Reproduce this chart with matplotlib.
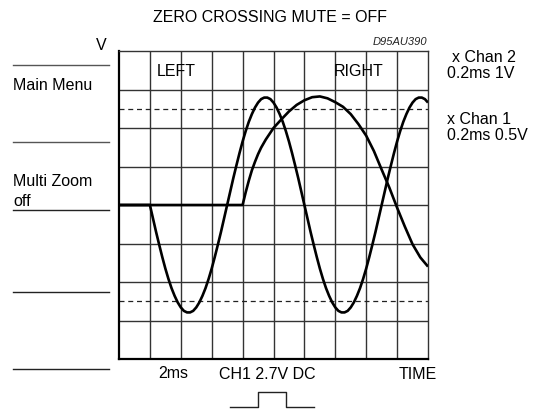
import numpy as np
import matplotlib.pyplot as plt

plt.rcParams['font.family'] = ['Liberation Sans', 'DejaVu Sans']

# Chan 2 trace (fast), in grid divisions; flat until 1 div, then read every 0.1 div
fast_x = np.concatenate([[0.0], np.round(np.linspace(1.0, 10.0, 91), 1)])
fast_y = [0.0,
          0.00, -0.35, -0.70, -1.03, -1.35, -1.65, -1.92, -2.16, -2.36, -2.53, -2.66, -2.75, -2.79,
          -2.79, -2.75, -2.66, -2.53, -2.36, -2.16, -1.92, -1.65, -1.35, -1.03, -0.70, -0.35, 0.00,
          0.35, 0.70, 1.03, 1.35, 1.65, 1.92, 2.16, 2.36, 2.53, 2.66, 2.75, 2.79,
          2.79, 2.75, 2.66, 2.53, 2.36, 2.16, 1.92, 1.65, 1.35, 1.03, 0.70, 0.35, 0.00,
          -0.35, -0.70, -1.03, -1.35, -1.65, -1.92, -2.16, -2.36, -2.53, -2.66, -2.75, -2.79,
          -2.79, -2.75, -2.66, -2.53, -2.36, -2.16, -1.92, -1.65, -1.35, -1.03, -0.70, -0.35, 0.00,
          0.35, 0.70, 1.03, 1.35, 1.65, 1.92, 2.16, 2.36, 2.53, 2.66, 2.75, 2.79,
          2.79, 2.75, 2.66]

# Chan 1 trace (slow)
slow_x = [0.0, 4.0, 4.1, 4.2, 4.3, 4.4, 4.5, 4.6, 4.75, 5.0, 5.25, 5.5, 5.75, 6.0, 6.25,
          6.5, 6.75, 7.0, 7.25, 7.5, 7.75, 8.0, 8.25, 8.5, 8.75, 9.0, 9.25, 9.5, 9.75, 10.0]
slow_y = [0.0, 0.0, 0.33, 0.63, 0.90, 1.12, 1.32, 1.49, 1.70, 2.00, 2.22, 2.43, 2.60, 2.72,
          2.80, 2.82, 2.77, 2.67, 2.55, 2.36, 2.10, 1.80, 1.40, 0.92, 0.45, -0.07, -0.56,
          -1.02, -1.36, -1.60]

marker_levels = [2.5, -2.5]
menu_lines_y = [66, 143, 211, 293, 370]   # px from top
fs = 11.5

W, H = 534, 410
fig = plt.figure(figsize=(W / 100, H / 100), dpi=100)

# background axes in pixel coords for labels and menu lines
bg = fig.add_axes([0, 0, 1, 1])
bg.set_xlim(0, W)
bg.set_ylim(H, 0)
bg.axis('off')

for i, yy in enumerate(menu_lines_y):
    bg.plot([13, 109], [yy, yy], color='#555555' if i < 2 else '#222222', lw=1.0)

bg.text(107, 46, 'V', ha='right', va='center', fontsize=fs)
bg.text(13, 86, 'Main Menu', ha='left', va='center', fontsize=fs)
bg.text(13, 182, 'Multi Zoom', ha='left', va='center', fontsize=fs)
bg.text(13, 202, 'off', ha='left', va='center', fontsize=fs)

bg.text(270, 18, 'ZERO CROSSING MUTE = OFF', ha='center', va='center', fontsize=fs)
bg.text(427, 42, 'D95AU390', ha='right', va='center', fontsize=8, style='italic',
        color='#222222')

bg.text(452, 58, 'x Chan 2', ha='left', va='center', fontsize=fs)
bg.text(447, 74, '0.2ms 1V', ha='left', va='center', fontsize=fs)
bg.text(447, 119, 'x Chan 1', ha='left', va='center', fontsize=fs)
bg.text(447, 136, '0.2ms 0.5V', ha='left', va='center', fontsize=fs)

bg.text(173, 374, '2ms', ha='center', va='center', fontsize=fs)
bg.text(267, 375, 'CH1 2.7V DC', ha='center', va='center', fontsize=fs)
bg.text(418, 375, 'TIME', ha='center', va='center', fontsize=fs)

# little pulse symbol
bg.plot([230, 258, 258, 286, 286, 314], [408, 408, 393, 393, 408, 408],
        color='#222222', lw=1.0)

# scope screen
left, right, top, bottom = 119, 428, 52, 360
ax = fig.add_axes([left / W, 1 - bottom / H, (right - left) / W, (bottom - top) / H])
ax.set_xlim(0, 10)
ax.set_ylim(-4, 4)
ax.set_xticks([])
ax.set_yticks([])
for xv in range(1, 10):
    ax.axvline(xv, color='#333333', lw=1.0, zorder=1)
for yv in range(-3, 4):
    ax.axhline(yv, color='#333333', lw=1.0, zorder=1)
for lv in marker_levels:
    ax.axhline(lv, color='#222222', lw=0.9, ls=(0, (4, 3)), zorder=1)

ax.text(1.85, 3.5, 'LEFT', ha='center', va='center', fontsize=fs)
ax.text(7.75, 3.5, 'RIGHT', ha='center', va='center', fontsize=fs)

ax.plot(fast_x, fast_y, color='black', lw=1.9, solid_capstyle='butt',
        solid_joinstyle='round', zorder=3)
ax.plot(slow_x, slow_y, color='black', lw=1.9, solid_capstyle='butt',
        solid_joinstyle='round', zorder=3)

for s in ['top', 'right']:
    ax.spines[s].set_color('#333333')
    ax.spines[s].set_linewidth(1.0)
for s in ['left', 'bottom']:
    ax.spines[s].set_color('black')
    ax.spines[s].set_linewidth(1.6)

fig.savefig('out.png', dpi=100)
